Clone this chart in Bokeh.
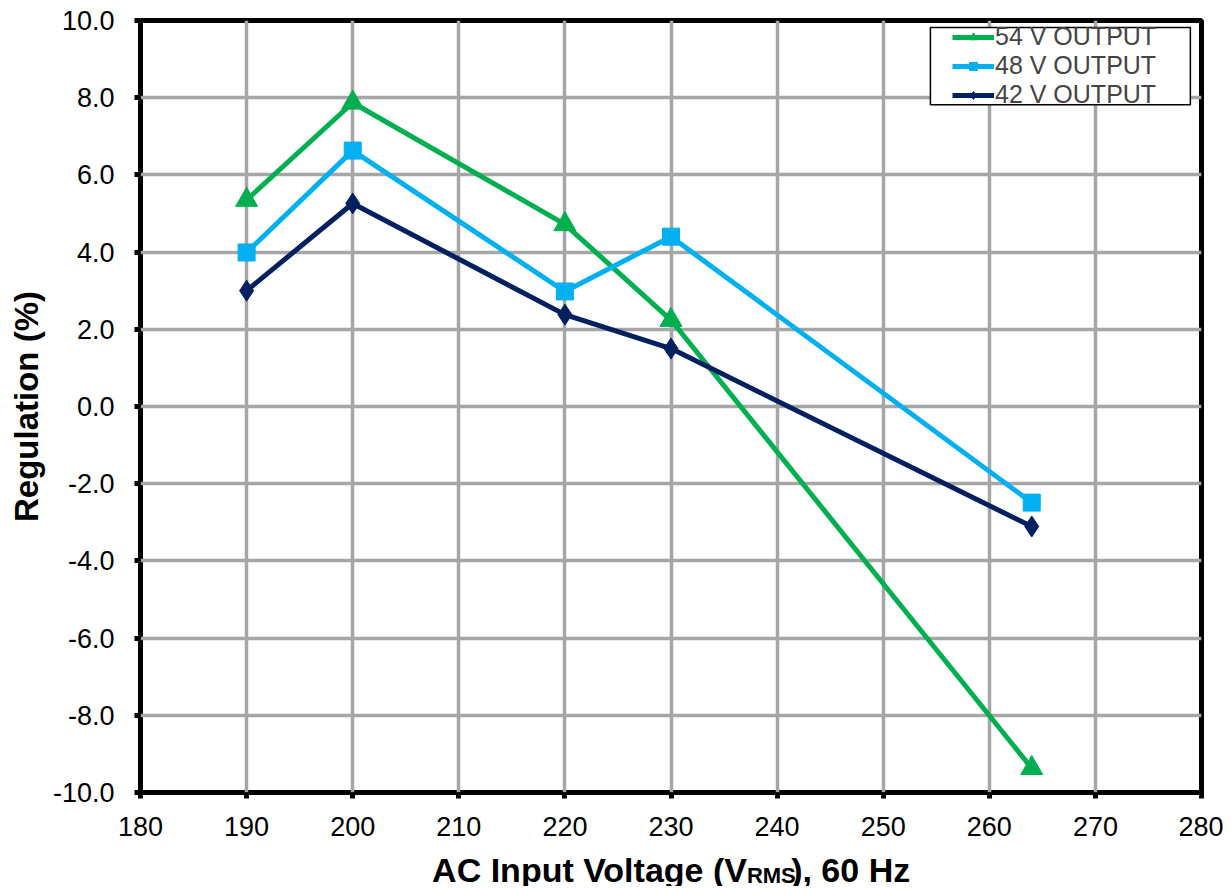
from bokeh.plotting import figure
from bokeh.layouts import column
from bokeh.models import (Legend, LegendItem, FixedTicker, Range1d, BoxAnnotation,
                          Plot, Text, ColumnDataSource)
from bokeh.core.properties import value
from bokeh.embed import file_html
from bokeh.resources import INLINE

x_vals = [190, 200, 220, 230, 264]
v54 = [5.35, 7.87, 4.72, 2.24, -9.37]
v48 = [3.99, 6.63, 2.98, 4.40, -2.49]
v42 = [3.00, 5.26, 2.38, 1.50, -3.11]
series_names = ["54 V OUTPUT", "48 V OUTPUT", "42 V OUTPUT"]
x_ticks = list(range(180, 281, 10))
y_ticks = [-10, -8, -6, -4, -2, 0, 2, 4, 6, 8, 10]
y_title = "Regulation (%)"
x_title_parts = ["AC Input Voltage (V", "RMS", "), 60 Hz"]

FONT = "Liberation Sans"

p = figure(width=1223, height=850, output_backend="svg", toolbar_location=None,
           x_range=Range1d(180, 280), y_range=Range1d(-10, 10),
           min_border_left=140, min_border_right=22, min_border_top=20, min_border_bottom=58)

p.outline_line_color = "black"
p.outline_line_width = 5
p.outline_line_alpha = 1

for ax in (p.xaxis[0], p.yaxis[0]):
    ax.axis_line_color = None
    ax.major_tick_line_color = "black"
    ax.major_tick_line_width = 5
    ax.major_tick_out = 6
    ax.major_tick_in = 0
    ax.minor_tick_line_color = None
    ax.major_label_text_font = FONT
    ax.major_label_text_font_size = "27px"
    ax.major_label_text_color = "black"

p.xaxis[0].ticker = FixedTicker(ticks=x_ticks)
p.yaxis[0].ticker = FixedTicker(ticks=y_ticks)
p.xaxis[0].major_label_standoff = 18
p.yaxis[0].major_label_standoff = 20
p.yaxis[0].major_label_overrides = {t: f"{t:.1f}" for t in y_ticks}

p.yaxis[0].axis_label = y_title
p.yaxis[0].axis_label_text_font = FONT
p.yaxis[0].axis_label_text_font_size = "33px"
p.yaxis[0].axis_label_text_font_style = "bold"
p.yaxis[0].axis_label_text_color = "black"
p.yaxis[0].axis_label_standoff = 5

p.xgrid.ticker = FixedTicker(ticks=x_ticks)
p.ygrid.ticker = FixedTicker(ticks=y_ticks)
for g in (p.xgrid[0], p.ygrid[0]):
    g.grid_line_color = "#A6A6A6"
    g.grid_line_width = 3.5

colors = ["#00B050", "#00B0F0", "#002060"]
data = [v54, v48, v42]
markers = ["triangle", "square", "diamond"]
sizes = [22, 17, 21]

items = []
for name, ys, c, m, s in zip(series_names, data, colors, markers, sizes):
    r1 = p.line(x_vals, ys, line_color=c, line_width=5)
    r2 = p.scatter(x_vals, ys, marker=m, size=s, fill_color=c, line_color=c)
    items.append(LegendItem(label=name, renderers=[r1, r2]))

# legend frame (box drawn behind the legend entries)
p.add_layout(BoxAnnotation(left=254.45, right=278.95, top=9.82, bottom=7.82,
                           fill_color="white", fill_alpha=1,
                           line_color="black", line_width=1.5, line_alpha=1))

legend = Legend(items=items, location=(812, 683),
                label_text_font=FONT, label_text_font_size="25px",
                label_height=20, glyph_height=20, glyph_width=42,
                label_standoff=1, spacing=0, padding=3, margin=0,
                border_line_color=None,
                background_fill_color="white", background_fill_alpha=0)
p.add_layout(legend)

# x axis title with subscript, in its own strip below the chart
t = Plot(width=1223, height=36, output_backend="svg", toolbar_location=None, title=None,
         x_range=Range1d(0, 1223), y_range=Range1d(0, 36),
         min_border=0, min_border_left=0, min_border_right=0, min_border_top=0, min_border_bottom=0,
         outline_line_color=None)
parts_src = ColumnDataSource(dict(x=[699, 699, 750], y=[17, 11, 17], text=x_title_parts,
                                  size=["34px", "22px", "34px"], align=["right", "left", "left"]))
t.add_glyph(parts_src, Text(x="x", y="y", text="text", text_font=value(FONT),
                            text_font_size="size", text_font_style="bold", text_align="align",
                            text_baseline="alphabetic", text_color="black"))

layout = column(p, t, spacing=0)
open("out.html", "w").write(file_html(layout, INLINE))
